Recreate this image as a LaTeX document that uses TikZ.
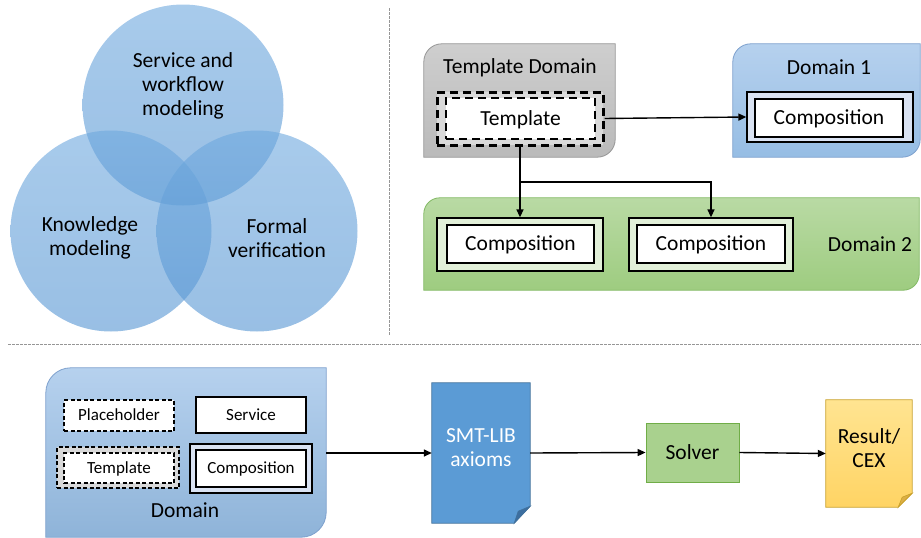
\documentclass[tikz,border=0pt]{standalone}
\usepackage{fontspec}
\setmainfont{Carlito}
\usetikzlibrary{arrows.meta,calc}

\definecolor{vennTop}{RGB}{110,168,222}
\definecolor{vennBot}{RGB}{84,148,210}
\definecolor{blueTop}{RGB}{182,209,238}
\definecolor{blueBot}{RGB}{150,189,228}
\definecolor{blueLine}{RGB}{125,160,205}
\definecolor{greenTop}{RGB}{185,218,164}
\definecolor{greenBot}{RGB}{158,204,128}
\definecolor{greenLine}{RGB}{130,185,100}
\definecolor{grayTop}{RGB}{206,206,206}
\definecolor{grayBot}{RGB}{186,186,186}
\definecolor{grayLine}{RGB}{150,150,150}
\definecolor{ringBlue}{RGB}{218,227,243}
\definecolor{ringGreen}{RGB}{226,240,217}
\definecolor{ringGray}{RGB}{217,217,217}
\definecolor{smtBlue}{RGB}{91,155,213}
\definecolor{smtLine}{RGB}{65,113,156}
\definecolor{smtFold}{RGB}{60,110,160}
\definecolor{solverFill}{RGB}{169,209,142}
\definecolor{solverLine}{RGB}{112,173,71}
\definecolor{resTop}{RGB}{255,228,145}
\definecolor{resBot}{RGB}{255,212,100}
\definecolor{resLine}{RGB}{200,160,40}
\definecolor{resFold}{RGB}{220,175,70}
\definecolor{sepGray}{RGB}{150,150,150}

\tikzset{
  big/.style={font=\fontsize{21.5}{23.8}\selectfont},
  small/.style={font=\fontsize{17}{20}\selectfont},
  bigline/.style={big, text height=15, text depth=1.5},
  smallline/.style={small, text height=12, text depth=1.2},
  venn/.style={circle, minimum size=201, inner sep=0, top color=vennTop, bottom color=vennBot, fill opacity=0.6, draw=none},
  box/.style={rectangle, inner sep=0, draw=black},
  ringbox/.style={box, line width=1.3},
  innerbox/.style={box, fill=white, line width=1.8},
  dashring/.style={box, fill=ringGray, line width=3, dash pattern=on 8 off 5},
  dashinner/.style={box, fill=white, line width=2.6, dash pattern=on 8 off 5},
  thindash/.style={box, fill=white, line width=1.1, dash pattern=on 4 off 2.5},
  thindashring/.style={box, fill=ringGray, line width=1.1, dash pattern=on 4 off 2.5},
  frame/.style={inner sep=0, draw=none},
  arr/.style={line width=1.4, -{Triangle[length=8, width=7]}},
  sep/.style={draw=sepGray, line width=1, dash pattern=on 2.5 off 1.5},
}

\begin{document}
\begin{tikzpicture}[x=1pt, y=1pt]
\useasboundingbox (0,0) rectangle (921,-538);

% ---------------- Venn diagram ----------------
\node[venn] (cTop)   at (183,-105) {};
\node[venn] (cLeft)  at (111,-231) {};
\node[venn] (cRight) at (257,-231) {};
\node[big, align=center] (tTop)   at (183,-86) {Service and\\workflow\\modeling};
\node[big, align=center] (tLeft)  at (90,-238) {Knowledge\\modeling};
\node[big, align=center] (tRight) at (277,-238) {Formal\\verification};

% ---------------- separators ----------------
\draw[sep] (389,-8) -- (389,-336);
\draw[sep] (8,-344) -- (921,-344);

% ---------------- Template Domain ----------------
\node[frame, minimum width=191, minimum height=113] (tdom) at (519.5,-100.5) {};
\shade[top color=grayTop, bottom color=grayBot, draw=grayLine, line width=0.8]
  (tdom.south west) -- ($(tdom.north west)+(0,-18)$)
  arc[start angle=180, end angle=90, radius=18] -- (tdom.north east)
  -- ($(tdom.south east)+(0,18)$)
  arc[start angle=0, end angle=-90, radius=18] -- cycle;
\node[bigline] (tdomLbl) at (520,-67) {Template Domain};
\node[dashring, minimum width=166, minimum height=53] (tplo) at (520,-118.5) {};
\node[dashinner, bigline, minimum width=149, minimum height=41] (tpli) at (520.5,-118.5) {Template};

% ---------------- Domain 1 ----------------
\node[frame, minimum width=187, minimum height=113] (dom1) at (826.5,-100.5) {};
\shade[top color=blueTop, bottom color=blueBot, draw=blueLine, line width=0.8]
  (dom1.south west) -- ($(dom1.north west)+(0,-18)$)
  arc[start angle=180, end angle=90, radius=18] -- (dom1.north east)
  -- ($(dom1.south east)+(0,18)$)
  arc[start angle=0, end angle=-90, radius=18] -- cycle;
\node[bigline] (dom1Lbl) at (829,-67.5) {Domain 1};
\node[ringbox, fill=ringBlue, minimum width=166, minimum height=50] (c1o) at (830,-117) {};
\node[innerbox, bigline, minimum width=148, minimum height=38] (c1i) at (829,-118) {Composition};

% ---------------- Domain 2 ----------------
\node[frame, minimum width=495, minimum height=92] (dom2) at (671.5,-244) {};
\shade[top color=greenTop, bottom color=greenBot, draw=greenLine, line width=0.8]
  (dom2.south west) -- ($(dom2.north west)+(0,-16)$)
  arc[start angle=180, end angle=90, radius=16] -- (dom2.north east)
  -- ($(dom2.south east)+(0,16)$)
  arc[start angle=0, end angle=-90, radius=16] -- cycle;
\node[bigline] (dom2Lbl) at (870,-245) {Domain 2};
\node[ringbox, fill=ringGreen, minimum width=166, minimum height=53] (c2ao) at (520,-244.5) {};
\node[innerbox, bigline, minimum width=147, minimum height=38] (c2ai) at (520.5,-244) {Composition};
\node[ringbox, fill=ringGreen, minimum width=164, minimum height=53] (c2bo) at (711,-244.5) {};
\node[innerbox, bigline, minimum width=148, minimum height=38] (c2bi) at (711,-244) {Composition};

% connectors from the template
\coordinate (split) at (tplo.south |- 0,-182);
\draw[arr] (tplo.east) -- (c1o.west);
\draw[arr] (tplo.south) -- (c2ao.north);
\draw[arr] (split) -| (c2bo.north);

% ---------------- bottom pipeline: Domain ----------------
\node[frame, minimum width=280, minimum height=169] (dom) at (186,-452.5) {};
\shade[top color=blueTop, bottom color=blueBot!95!black, draw=blueLine, line width=0.8]
  (dom.south west) -- ($(dom.north west)+(0,-25)$)
  arc[start angle=180, end angle=90, radius=25] -- (dom.north east)
  -- ($(dom.south east)+(0,25)$)
  arc[start angle=0, end angle=-90, radius=25] -- cycle;
\node[bigline] (domLbl) at (185,-510.5) {Domain};
\node[thindash, smallline, minimum width=110, minimum height=31] (ph) at (119,-415.5) {Placeholder};
\node[box, fill=white, line width=1.4, smallline, minimum width=110, minimum height=36] (svc) at (251,-415) {Service};
\node[thindashring, minimum width=122, minimum height=41] (tpo) at (118,-467.5) {};
\node[thindash, smallline, minimum width=110, minimum height=30] (tpi) at (119,-468) {Template};
\node[ringbox, fill=ringBlue, minimum width=122, minimum height=49] (cbo) at (251,-468.5) {};
\node[innerbox, smallline, line width=1.5, minimum width=110, minimum height=37] (cbi) at (251,-468.5) {Composition};

% ---------------- SMT-LIB document ----------------
\node[frame, minimum width=98, minimum height=140] (smt) at (481,-453) {};
\fill[smtBlue, draw=smtLine, line width=0.8]
  (smt.north west) -- (smt.north east) -- ($(smt.south east)+(0,17)$)
  -- ($(smt.south east)+(-16,0)$) -- (smt.south west) -- cycle;
\fill[smtFold, draw=smtLine, line width=0.6]
  ($(smt.south east)+(0,17)$) -- ($(smt.south east)+(-12,12)$) -- ($(smt.south east)+(-16,0)$) -- cycle;
\node[big, text=white, align=center] (smtLbl) at (481,-447.5) {SMT-LIB\\axioms};

% ---------------- Solver ----------------
\node[box, fill=solverFill, draw=solverLine, line width=0.8, bigline, minimum width=93, minimum height=59] (solver) at (692.5,-452.5) {Solver};

% ---------------- Result document ----------------
\node[frame, minimum width=86, minimum height=107] (res) at (869,-453.5) {};
\shade[top color=resTop, bottom color=resBot, draw=resLine, line width=0.8]
  (res.north west) -- (res.north east) -- ($(res.south east)+(0,14)$)
  -- ($(res.south east)+(-14,0)$) -- (res.south west) -- cycle;
\fill[resFold, draw=resLine, line width=0.6]
  ($(res.south east)+(0,14)$) -- ($(res.south east)+(-10,10)$) -- ($(res.south east)+(-14,0)$) -- cycle;
\node[big, align=center] (resLbl) at (869,-448) {Result/\\CEX};

% pipeline connectors
\draw[arr] (dom.east |- smt.west) -- (smt.west);
\draw[arr] (smt.east) -- (solver.west);
\draw[arr] (solver.east) -- (res.west);
\end{tikzpicture}
\end{document}
